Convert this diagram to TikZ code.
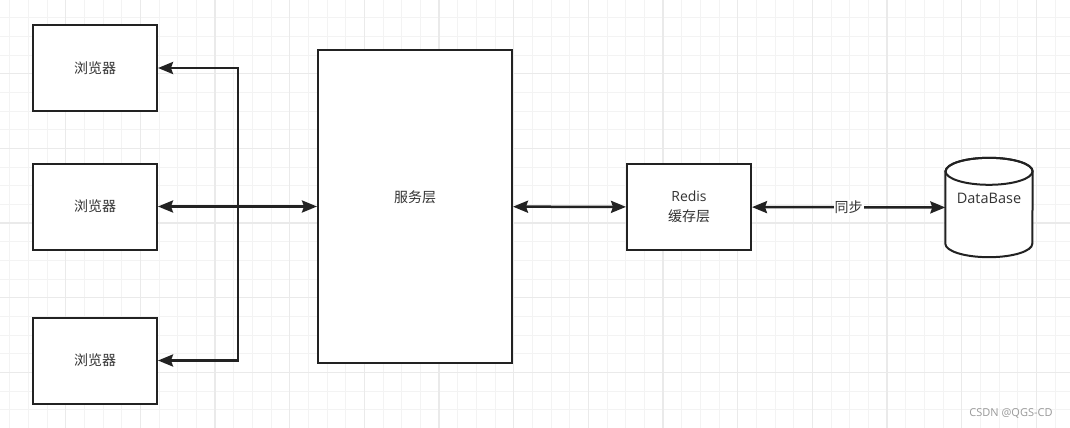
\documentclass[tikz,border=0pt]{standalone}
\usepackage{fontspec}
\setmainfont{Open Sans}
\newfontfamily\cjk{Noto Sans CJK SC}
\usetikzlibrary{arrows.meta}
\definecolor{ink}{HTML}{222222}
\definecolor{txt}{HTML}{333333}
\definecolor{gridmin}{HTML}{F3F3F3}
\definecolor{gridmaj}{HTML}{EAEAEA}
\definecolor{markgray}{HTML}{9A9A9A}
\tikzset{
  box/.style={draw=ink,fill=white,line width=2pt,align=center,
              text=txt,font=\fontsize{14}{20}\selectfont},
  smallbox/.style={box,minimum width=124,minimum height=86},
  cylline/.style={draw=ink,line width=2pt},
  arr/.style={-{Stealth[length=15pt,width=12pt,inset=2pt]},line width=2.5pt,
              draw=ink},
  biarr/.style={{Stealth[length=15pt,width=12pt,inset=2pt]}-{Stealth[length=15pt,width=12pt,inset=2pt]},
                line width=2.5pt,draw=ink},
  gridminor/.style={draw=gridmin,line width=1pt},
  gridmajor/.style={draw=gridmaj,line width=1.2pt}
}
\begin{document}
\begin{tikzpicture}[x=1pt,y=-1pt]
    \path[use as bounding box,fill=white] (0,0) rectangle (1070,428);
    % background grid
    \foreach \i in {0,...,57}
      \draw[gridminor] ({9.67+18.667*\i},0) -- ++(0,428);
    \foreach \i in {1,...,23}
      \draw[gridminor] (0,{-1+18.667*\i}) -- ++(1070,0);
    \foreach \i in {0,...,13}
      \draw[gridmajor] ({65.67+74.667*\i},0) -- ++(0,428);
    \foreach \i in {0,...,4}
      \draw[gridmajor] (0,{73.67+74.667*\i}) -- ++(1070,0);

    \node[smallbox] (b1) at (95,68) {\cjk 浏览器};
    \node[smallbox] (b2) at (95,206.5) {\cjk 浏览器};
    \node[smallbox] (b3) at (95,360.5) {\cjk 浏览器};
    \node[box,minimum width=194,minimum height=313,
          label={[name=svcl,yshift=9pt,text=txt,font=\fontsize{14}{20}\selectfont\cjk]center:服务层}]
      (svc) at (415,206.5) {};
    \node[smallbox] (redis) at (689,207) {Redis\\{\cjk 缓存层}};

    % database cylinder
    \node[minimum width=87,minimum height=99,inner sep=0pt] (db) at (989,207.5) {};
    \filldraw[cylline,fill=white] ([yshift=-13.5pt]db.north west)
      -- ([yshift=13.5pt]db.south west)
      arc[start angle=180,end angle=360,x radius=43.5pt,y radius=13.5pt]
      -- ([yshift=-13.5pt]db.north east)
      arc[start angle=0,end angle=180,x radius=43.5pt,y radius=13.5pt] -- cycle;
    \draw[cylline] ([yshift=-13.5pt]db.north)
      ellipse[x radius=43.5pt,y radius=13.5pt];
    \node[text=txt,font=\fontsize{14.5}{20}\selectfont] (dbl)
      at ([yshift=9pt]db.center) {DataBase};

    \coordinate (trunk) at (238,206.5);
    \draw[arr] (trunk) |- (b1.east);
    \draw[arr] (trunk) |- (b3.east);
    \draw[biarr] (b2) -- (svc);
    \draw[biarr] (svc) -- (redis);
    \draw[biarr] (redis) -- (db)
      node[midway,fill=white,inner sep=1pt,text=txt,
           font=\fontsize{14}{20}\selectfont\cjk] (sync) {同步};

    \node[text=markgray,font=\fontsize{11}{13}\selectfont] (wm) at (1011,413)
      {CSDN @QGS-CD};
\end{tikzpicture}
\end{document}
